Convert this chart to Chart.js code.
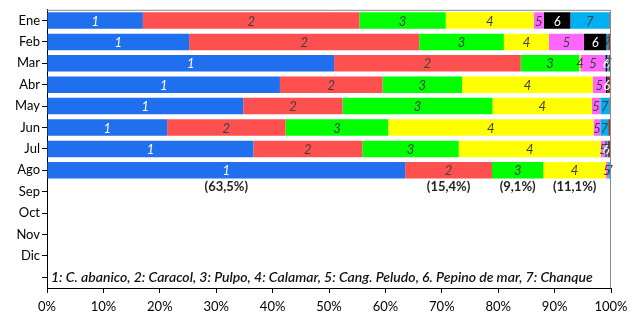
<!DOCTYPE html>
<html>
<head>
<meta charset="utf-8">
<script src="https://cdn.jsdelivr.net/npm/chart.js@4"></script>
<style>
  html, body { margin: 0; padding: 0; background: #fff; }
  #wrap { width: 643px; height: 317px; }
</style>
</head>
<body>
<div id="wrap"><canvas id="chart" width="643" height="317"></canvas></div>
<script>
// months, last row is empty (legend text sits there)
const months = ["Ene", "Feb", "Mar", "Abr", "May", "Jun", "Jul", "Ago", "Sep", "Oct", "Nov", "Dic", ""];

const seriesNames = ["1", "2", "3", "4", "5", "6", "7", ""];
const colours = ["#1F6FEF", "#FF5050", "#00FF00", "#FFFF00", "#FF66FF", "#000000", "#00B0F0", "#7B3B2F"];

// percentages per month (Ene..Ago)
const cAbanico = [17.0, 25.2, 50.9, 41.3, 34.8, 21.3, 36.6, 63.5];
const caracol = [38.4, 40.8, 33.1, 18.2, 17.6, 21.0, 19.3, 15.4];
const pulpo = [15.3, 15.0, 10.4, 14.1, 26.6, 18.2, 17.1, 9.1];
const calamar = [15.6, 8.0, 0.2, 23.2, 17.6, 36.4, 25.2, 11.1];
const cangPeludo = [1.8, 6.2, 4.4, 2.3, 1.5, 1.2, 0.8, 0.4];
const pepino = [4.7, 4.0, 0.3, 0.3, 0, 0, 0.2, 0];
const chanque = [6.9, 0.3, 0.3, 0, 1.6, 1.4, 0.2, 0.3];
const otros = [0.3, 0.5, 0.4, 0.6, 0.3, 0.5, 0.6, 0.2];

const agoLabels = ["(63,5%)", "(15,4%)", "(9,1%)", "(11,1%)"];
const legendText = "1: C. abanico, 2: Caracol, 3: Pulpo, 4: Calamar, 5: Cang. Peludo, 6. Pepino de mar, 7: Chanque";

const allSeries = [cAbanico, caracol, pulpo, calamar, cangPeludo, pepino, chanque, otros];

const FONT = "Lato, 'Open Sans', sans-serif";

const datasets = allSeries.map((vals, i) => ({
  label: seriesNames[i],
  data: vals,
  backgroundColor: colours[i],
  borderWidth: 0,
  barPercentage: 0.77,
  categoryPercentage: 1,
}));

const segmentLabels = {
  id: "segmentLabels",
  afterDatasetsDraw(chart) {
    const ctx = chart.ctx;
    ctx.save();
    ctx.textAlign = "center";
    ctx.textBaseline = "middle";
    ctx.font = "italic 13px " + FONT;
    for (let d = 0; d < 7; d++) {
      const meta = chart.getDatasetMeta(d);
      meta.data.forEach((el, i) => {
        const v = allSeries[d][i];
        if (!v) return;
        ctx.fillStyle = (d === 0 || d === 5) ? "#ffffff" : "#404040";
        ctx.fillText(seriesNames[d], (el.x + el.base) / 2, el.y + 1);
      });
    }
    // percentages under the Ago bar
    ctx.font = "bold 13px " + FONT;
    ctx.fillStyle = "#222";
    agoLabels.forEach((t, d) => {
      const el = chart.getDatasetMeta(d).data[7];
      ctx.fillText(t, (el.x + el.base) / 2, el.y + 17);
    });
    // legend line inside plot
    const area = chart.chartArea;
    const yLast = chart.scales.y.getPixelForValue(12);
    let size = 15;
    ctx.font = "italic 600 " + size + "px " + FONT;
    while (ctx.measureText(legendText).width > 556 && size > 8) {
      size -= 0.5;
      ctx.font = "italic 600 " + size + "px " + FONT;
    }
    ctx.fillStyle = "#111";
    ctx.textAlign = "left";
    ctx.fillText(legendText, area.left + 4, yLast);
    // grey frame top/right
    ctx.strokeStyle = "#8a8a8a";
    ctx.lineWidth = 1;
    ctx.beginPath();
    ctx.moveTo(area.left, area.top + 0.5);
    ctx.lineTo(area.right - 0.5, area.top + 0.5);
    ctx.lineTo(area.right - 0.5, area.bottom);
    ctx.stroke();
    ctx.restore();
  },
};

new Chart(document.getElementById("chart").getContext("2d"), {
  type: "bar",
  data: { labels: months, datasets: datasets },
  options: {
    indexAxis: "y",
    responsive: false,
    animation: false,
    layout: { padding: { top: 4, right: 32, left: 0, bottom: 0 } },
    plugins: { legend: { display: false }, tooltip: { enabled: false } },
    scales: {
      x: {
        stacked: true,
        min: 0,
        max: 100,
        afterFit: (s) => { s.height = 29; },
        ticks: {
          stepSize: 10,
          callback: (v) => v + "%",
          color: "#000",
          font: { family: FONT, size: 13 },
          padding: 6,
          maxRotation: 0,
        },
        grid: { drawOnChartArea: false, drawTicks: true, tickLength: 5, color: "#000" },
        border: { color: "#000", width: 1 },
      },
      y: {
        stacked: true,
        afterFit: (s) => { s.width = 47; },
        ticks: {
          color: "#000",
          font: { family: FONT, size: 13 },
          padding: 2,
        },
        grid: { drawOnChartArea: false, drawTicks: true, tickLength: 5, color: "#000", offset: false },
        border: { color: "#000", width: 1 },
      },
    },
  },
  plugins: [segmentLabels],
});
</script>
</body>
</html>
